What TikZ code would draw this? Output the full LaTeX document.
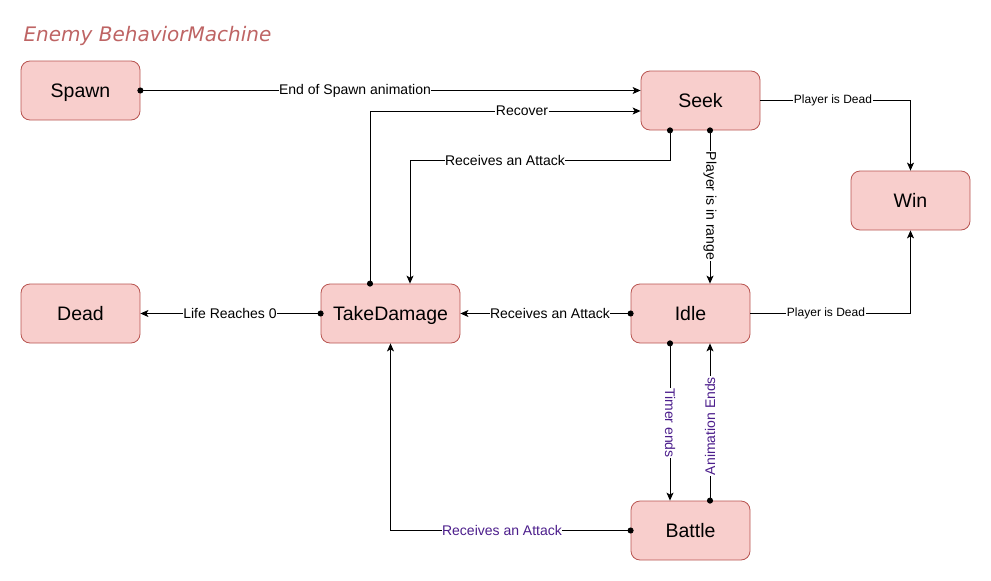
\documentclass[tikz,border=0pt]{standalone}
\usepackage{fontspec}
\setmainfont{Liberation Sans}
\newfontfamily\titlefont{DejaVu Sans}
\usetikzlibrary{arrows.meta}
\definecolor{nfill}{HTML}{F8CECC}
\definecolor{nline}{HTML}{B85450}
\definecolor{lblpurple}{RGB}{76,30,140}
\definecolor{titlecol}{RGB}{190,100,100}
\begin{document}
\begin{tikzpicture}[x=1pt,y=-1pt,
  state/.style={draw=nline, fill=nfill, line width=0.8pt, rounded corners=9pt,
    minimum width=119pt, minimum height=59pt, inner sep=0pt,
    text height=14pt, text depth=0pt,
    font=\fontsize{19.5}{22}\selectfont},
  conn/.style={line width=0.9pt, -{Stealth[length=8pt,width=7pt,inset=2pt]}},
  dconn/.style={line width=0.9pt, {Circle[length=6pt]}-{Stealth[length=8pt,width=7pt,inset=2pt]}, shorten <=-3pt},
  lbl/.style={fill=white, inner sep=0.5pt, font=\fontsize{14}{16}\selectfont},
  slbl/.style={fill=white, inner sep=0.5pt, font=\fontsize{12}{14}\selectfont},
  plbl/.style={lbl, text=lblpurple}]
\useasboundingbox (0,0) rectangle (991,581);

\node[anchor=west, text=titlecol, font=\titlefont\itshape\fontsize{20}{23}\selectfont] (title) at (20,36) {Enemy BehaviorMachine};

\node[state] (spawn) at (80.5,90.5) {Spawn};
\node[state] (seek) at (700.5,100.5) {Seek};
\node[state] (win) at (910.5,200.5) {Win};
\node[state] (dead) at (80.5,313.5) {Dead};
\node[state, minimum width=139pt] (td) at (390.5,313.5) {TakeDamage};
\node[state] (idle) at (690.5,313.5) {Idle};
\node[state] (battle) at (690.5,530.5) {Battle};

% Spawn -> Seek
\draw[dconn] (spawn.east) -- (spawn.east -| seek.west);
\node[lbl] (l1) at (355,90.5) {End of Spawn animation};

% TakeDamage -> Seek (Recover)
\draw[dconn] ([xshift=-20.5pt]td.north) |- ([yshift=-10.5pt]seek.west);
\node[lbl] (l2) at (522,111) {Recover};

% Seek -> TakeDamage
\draw[dconn] ([xshift=-30.5pt]seek.south) -- ++(0,30) -| ([xshift=19.5pt]td.north);
\node[lbl] (l3) at (505,160) {Receives an Attack};

% Seek -> Idle
\draw[dconn] ([xshift=9.5pt]seek.south) -- ([xshift=19.5pt]idle.north);
\node[lbl, rotate=-90] (l4) at (710,206) {Player is in range};

% Seek -> Win
\draw[conn] (seek.east) -| (win.north);
\node[slbl] (l5) at (833,100.5) {Player is Dead};

% Idle -> Win
\draw[conn] (idle.east) -| (win.south);
\node[slbl] (l6) at (826,313.5) {Player is Dead};

% Idle -> TakeDamage
\draw[dconn] (idle.west) -- (td.east);
\node[lbl] (l7) at (550,313.5) {Receives an Attack};

% TakeDamage -> Dead
\draw[dconn] (td.west) -- (dead.east);
\node[lbl] (l8) at (230,313.5) {Life Reaches 0};

% Idle -> Battle
\draw[dconn] ([xshift=-20.5pt]idle.south) -- ([xshift=-20.5pt]battle.north);
\node[plbl, rotate=-90] (l9) at (670,423) {Timer ends};

% Battle -> Idle
\draw[dconn] ([xshift=19.5pt]battle.north) -- ([xshift=19.5pt]idle.south);
\node[plbl, rotate=90] (l10) at (710,426) {Animation Ends};

% Battle -> TakeDamage
\draw[dconn] (battle.west) -| (td.south);
\node[plbl] (l11) at (502,530.5) {Receives an Attack};
\end{tikzpicture}
\end{document}
